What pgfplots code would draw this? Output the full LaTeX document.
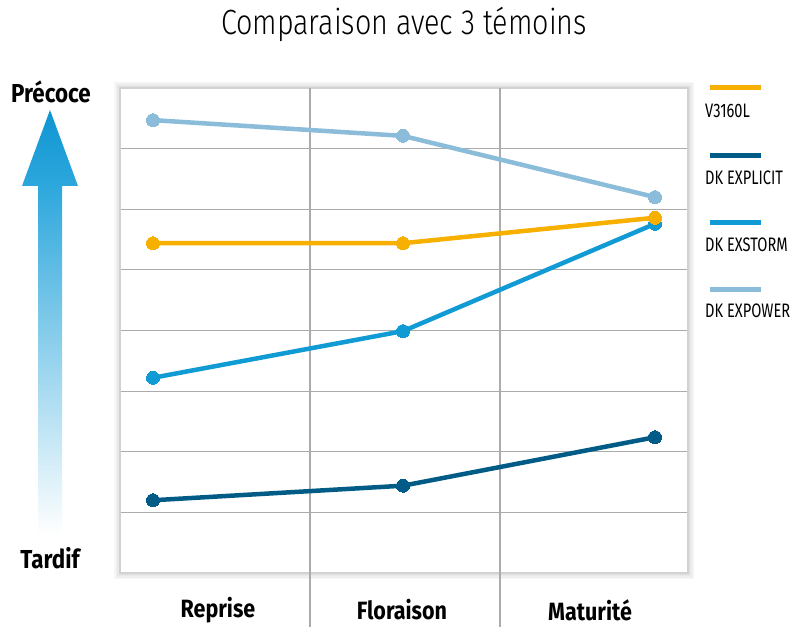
\documentclass[border=0pt]{standalone}
\usepackage{pgfplots}
\pgfplotsset{compat=1.18}
\usepackage{fontspec}
\setmainfont{Fira Sans}[FakeStretch=0.86]
\newfontfamily\titlefont{Fira Sans Light}[FakeStretch=0.82]
\newfontfamily\legfont{Fira Sans}[FakeStretch=0.75]
\definecolor{cOrange}{HTML}{F7B000}
\definecolor{cDark}{HTML}{005C86}
\definecolor{cMid}{HTML}{119BD5}
\definecolor{cLight}{HTML}{8BBCD9}
\definecolor{gridc}{HTML}{ABABAB}
\definecolor{framec}{HTML}{D2D2D2}
\definecolor{arrTop}{HTML}{0E95D2}
\definecolor{arrMid}{HTML}{2DA7DC}
\begin{document}
\begin{tikzpicture}[x=1pt,y=1pt]
\path[use as bounding box] (0,0) rectangle (803,627);
% soft shadow around the box
\foreach \w in {12,9,6,3}{
  \draw[black, opacity=0.03, line width=\w pt] (120,54) rectangle (688,539);
}
\fill[white] (120,54) rectangle (688,539);
% title
\node[font=\titlefont\fontsize{35}{38}\selectfont, text=black] at (404,603) {Comparaison avec 3 témoins};
% arrow
\shade[top color=arrMid, bottom color=white] (38,92) rectangle (62,442);
\shade[top color=arrTop, bottom color=arrMid] (50,517) -- (78,441) -- (22,441) -- cycle;
\node[font=\bfseries\fontsize{26}{28}\selectfont] at (51,535) {Précoce};
\node[font=\bfseries\fontsize{26}{28}\selectfont] at (50,69) {Tardif};
\begin{axis}[
  at={(120pt,54pt)}, anchor=south west,
  width=568pt, height=485pt, scale only axis,
  xmin=120, xmax=688, ymin=0, ymax=8,
  clip=false,
  axis line style={framec, line width=1.2pt},
  ytick={1,2,3,4,5,6,7}, yticklabels={},
  ymajorgrids, grid style={gridc, line width=1.2pt},
  major tick length=0pt,
  xtick={218,402,590}, xticklabels={Reprise,Floraison,Maturité},
  xticklabel style={font=\bfseries\fontsize{25}{28}\selectfont, anchor=center, yshift=-37pt},
]
\draw[gridc, line width=1.2pt] (310,8) -- (310,-0.89);
\draw[gridc, line width=1.2pt] (500,8) -- (500,-0.89);
\addplot[cLight, line width=4.5pt, mark=*, mark size=6.5pt, mark options={fill=cLight, draw=cLight, line width=0pt}]
  coordinates {(153,7.47) (403,7.21) (655,6.20)};
\addplot[cMid, line width=4.5pt, mark=*, mark size=6.5pt, mark options={fill=cMid, draw=cMid, line width=0pt}]
  coordinates {(153,3.22) (403,3.99) (655,5.76)};
\addplot[cDark, line width=4.5pt, mark=*, mark size=6.5pt, mark options={fill=cDark, draw=cDark, line width=0pt}]
  coordinates {(153,1.20) (403,1.44) (655,2.24)};
\addplot[cOrange, line width=4.5pt, mark=*, mark size=6.5pt, mark options={fill=cOrange, draw=cOrange, line width=0pt}]
  coordinates {(153,5.44) (403,5.44) (655,5.86)};
\end{axis}
% legend
\draw[cOrange, line width=5pt] (710,539) -- (761,539);
\draw[cDark, line width=5pt] (710,471) -- (761,471);
\draw[cMid, line width=5pt] (710,404) -- (761,404);
\draw[cLight, line width=5pt] (710,337) -- (761,337);
\begin{scope}[every node/.style={anchor=west, inner sep=0pt, font=\legfont\fontsize{19.5}{21}\selectfont}]
\node at (705,516) {V3160L};
\node at (705,449) {DK EXPLICIT};
\node at (705,382) {DK EXSTORM};
\node at (705,316) {DK EXPOWER};
\end{scope}
\end{tikzpicture}
\end{document}
